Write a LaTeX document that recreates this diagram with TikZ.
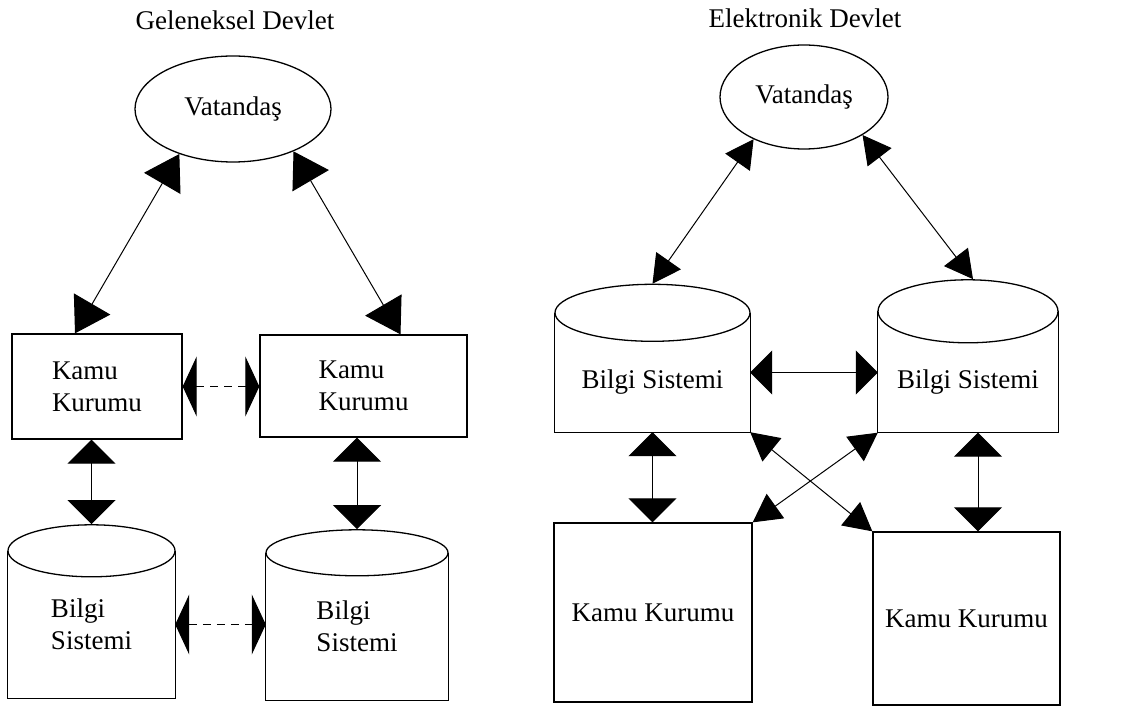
\documentclass[tikz,border=0pt]{standalone}
\usepackage{fontspec}
\setmainfont{Liberation Serif}
\usetikzlibrary{arrows.meta,shapes.geometric}

\begin{document}
\begin{tikzpicture}[x=1pt, y=-1pt, font=\fontsize{27}{32}\selectfont]
	\tikzset{box/.style={draw, line width=1.3pt, inner sep=0pt},
		body/.style={inner sep=0pt},
		dbtop/.style={draw, ellipse, line width=1.3pt, inner sep=0pt},
		link/.style={line width=1pt, <->, >={Triangle[width=42pt,length=34pt]}},
		vlink/.style={line width=1pt, <->, >={Triangle[width=48pt,length=24pt]}},
		hlink/.style={line width=1pt, <->, >={Triangle[width=44pt,length=22pt]}},
		xlink/.style={line width=1pt, <->, >={Triangle[width=30pt,length=28pt]}},
		dlink/.style={line width=1pt, dash pattern=on 8pt off 6pt, <->, >={Triangle[width=60pt,length=14pt]}}}
	\useasboundingbox (0, 0) rectangle (1123, 708);
	% Geleneksel Devlet
	\node (gtitle) at (235, 20) {Geleneksel Devlet};
	\node [draw, ellipse, line width=1.3pt, minimum width=196pt, minimum height=106pt] (gvat) at (233, 109) {Vatandaş};
	\node [box, minimum width=170pt, minimum height=105pt, align=left] (gkk1) at (97, 386.5) {Kamu\\Kurumu};
	\node [box, minimum width=207pt, minimum height=102pt, align=left] (gkk2) at (363.5, 386) {Kamu\\Kurumu};
	\node [body, minimum width=167pt, minimum height=147pt, align=left] (gbs1) at (91.5, 624.5) {Bilgi\\Sistemi};
	\node [dbtop, minimum width=167pt, minimum height=52pt] (gbs1top) at (gbs1.north) {};
	\node [body, minimum width=182pt, minimum height=147pt, align=left] (gbs2) at (357, 626.5) {Bilgi\\Sistemi};
	\node [dbtop, minimum width=182pt, minimum height=46pt] (gbs2top) at (gbs2.north) {};
	\draw [line width=1.3pt] (gbs1.north west) -- (gbs1.south west) -- (gbs1.south east) -- (gbs1.north east);
	\draw [line width=1.3pt] (gbs2.north west) -- (gbs2.south west) -- (gbs2.south east) -- (gbs2.north east);
	\draw [link] (gvat.-140) -- ([xshift=-22pt]gkk1.north);
	\draw [link] (gvat.-35) -- ([xshift=37pt]gkk2.north);
	\draw [dlink] (gkk1.east) -- (gkk1.east -| gkk2.west);
	\draw [vlink] (gbs1top.north |- gkk1.south) -- (gbs1top.north);
	\draw [vlink] (gbs2top.north |- gkk2.south) -- (gbs2top.north);
	\draw [dlink] (gbs1.east) -- (gbs1.east -| gbs2.west);
	% Elektronik Devlet
	\node (etitle) at (805, 18) {Elektronik Devlet};
	\node [draw, ellipse, line width=1.3pt, minimum width=168pt, minimum height=104pt] (evat) at (804, 97) {Vatandaş};
	\node [body, minimum width=195pt, minimum height=119pt] (ebs1) at (652.5, 372.5) {};
	\node [dbtop, minimum width=195pt, minimum height=57pt] (ebs1top) at (ebs1.north) {};
	\node [body, minimum width=180pt, minimum height=121pt] (ebs2) at (968, 372) {};
	\node [dbtop, minimum width=180pt, minimum height=63pt] (ebs2top) at (ebs2.north) {};
	\draw [line width=1.3pt] (ebs1.north west) -- (ebs1.south west) -- (ebs1.south east) -- (ebs1.north east);
	\draw [line width=1.3pt] (ebs2.north west) -- (ebs2.south west) -- (ebs2.south east) -- (ebs2.north east);
	\node (ebs1text) at ([yshift=-10pt]ebs1.center) {Bilgi Sistemi};
	\node (ebs2text) at ([yshift=-10pt]ebs2.center) {Bilgi Sistemi};
	\node [box, minimum width=198pt, minimum height=179pt] (ekk1) at (653, 612.5) {Kamu Kurumu};
	\node [box, minimum width=187pt, minimum height=173pt] (ekk2) at (966.5, 618.5) {Kamu Kurumu};
	\draw [xlink] (evat.-140) -- (ebs1top.north);
	\draw [xlink] (evat.-33) -- ([xshift=5pt]ebs2top.north);
	\draw [hlink] (ebs1.east) -- (ebs1.east -| ebs2.west);
	\draw [vlink] (ebs1.south) -- (ebs1.south |- ekk1.north);
	\draw [vlink] ([xshift=10pt]ebs2.south) -- ([xshift=10pt]ebs2.south |- ekk2.north);
	\draw [xlink] (ebs1.south east) -- (ekk2.north west);
	\draw [xlink] (ebs2.south west) -- (ekk1.north east);
\end{tikzpicture}
\end{document}
